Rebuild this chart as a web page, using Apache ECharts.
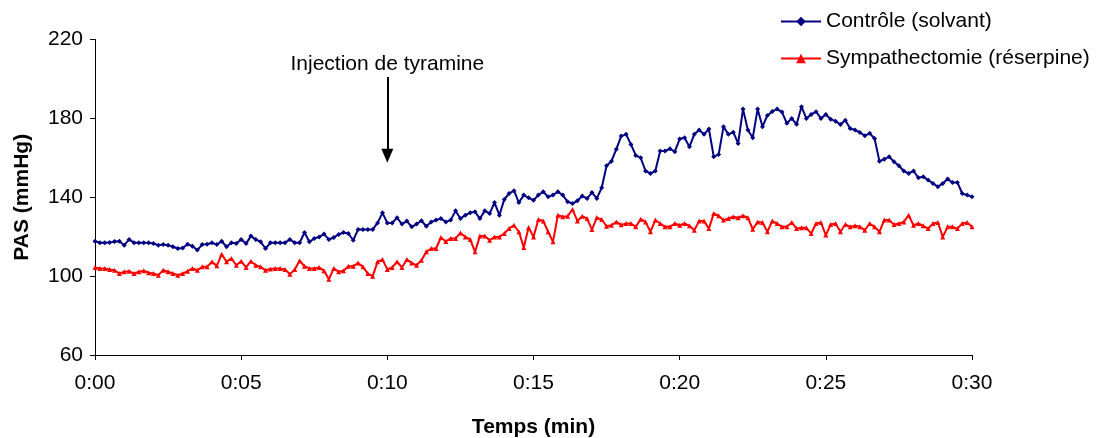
<!DOCTYPE html>
<html><head><meta charset="utf-8">
<script src="https://cdn.jsdelivr.net/npm/echarts@6/dist/echarts.min.js"></script>
<style>html,body{margin:0;padding:0;background:#fff}#c{width:1103px;height:438px}</style>
</head><body><div id="c"></div>
<script>
// time points every 10 s from 0:00 to 0:30 (h:mm:ss)
const categories = [];
for (let s = 0; s <= 1800; s += 10) {
  const m = Math.floor(s / 60), sec = s % 60;
  categories.push('0:' + String(m).padStart(2, '0') + ':' + String(sec).padStart(2, '0'));
}
const xTickLabels = ['0:00:00','0:05:00','0:10:00','0:15:00','0:20:00','0:25:00','0:30:00'];
const yTicks = [60, 100, 140, 180, 220];

const controle = [
117.7,116.9,116.9,117.0,117.6,117.7,115.7,118.6,116.9,116.9,
116.9,116.9,116.5,115.7,116.0,115.7,114.9,114.0,114.3,116.2,
115.2,113.2,116.0,116.2,116.9,116.0,117.7,114.9,116.9,116.5,
118.6,116.5,120.3,118.6,117.4,114.0,116.9,116.9,116.9,116.9,
118.6,116.9,116.9,122.1,117.4,119.1,119.9,121.3,118.6,119.6,
121.1,122.1,121.6,118.2,123.7,123.7,123.7,123.7,127.0,132.1,
127.0,127.0,129.6,126.4,127.9,125.0,126.4,128.1,125.3,127.5,
128.4,129.2,127.5,128.4,133.1,129.2,130.9,132.1,132.6,129.2,
133.1,131.8,137.3,130.9,138.9,141.9,143.3,137.3,141.1,139.7,
138.5,141.1,142.8,140.2,141.1,142.8,141.1,137.7,136.8,138.2,
140.6,139.4,142.4,139.4,144.8,156.0,158.3,164.4,171.0,171.9,
166.8,161.2,160.0,153.3,152.1,153.3,163.4,163.4,164.6,163.1,
169.5,170.2,165.6,171.9,174.1,171.9,174.6,160.5,161.7,175.8,
171.9,173.0,167.3,184.7,174.1,170.2,184.7,175.8,181.5,183.5,
184.7,183.2,177.5,180.0,177.0,185.9,180.0,182.0,183.4,180.0,
182.0,179.6,178.6,176.9,179.1,174.9,174.1,172.9,171.2,172.4,
169.8,158.3,159.3,160.5,158.0,156.0,153.3,152.1,153.3,149.9,
150.4,148.7,147.0,145.3,147.0,149.2,147.5,147.5,141.9,141.1,
140.2
];
const sympathectomie = [
104.4,103.9,103.9,103.4,103.0,101.3,102.2,102.5,101.3,102.2,
102.7,101.7,101.3,100.5,103.0,102.2,101.3,100.5,101.3,102.5,
103.9,103.0,104.7,104.7,107.3,105.2,111.1,107.3,109.0,105.5,
107.6,104.4,107.6,105.5,104.7,103.0,103.6,103.9,103.9,103.4,
101.0,103.4,107.8,105.0,103.9,103.9,104.4,102.7,98.4,103.9,
102.2,102.7,105.0,105.0,106.7,104.7,101.3,100.0,107.3,108.4,
103.4,104.4,107.3,104.4,108.4,106.7,105.5,108.1,112.3,114.0,
114.0,119.6,117.6,119.1,119.1,121.9,119.9,118.6,112.3,120.3,
120.3,118.2,119.9,119.9,121.6,124.2,125.8,122.5,114.5,124.7,
119.9,128.7,128.0,122.5,117.4,130.9,130.1,130.4,133.8,128.0,
130.4,129.2,123.6,129.7,128.7,125.3,125.8,127.5,126.0,126.7,
126.7,125.0,128.9,127.5,122.5,128.4,126.7,125.0,125.0,126.7,
125.8,126.7,125.5,123.3,127.9,127.9,124.1,131.8,130.6,128.4,
129.2,130.1,129.6,130.6,129.6,123.8,127.5,127.2,122.5,127.9,
126.7,125.0,125.0,127.2,124.1,124.5,124.5,121.6,126.7,127.2,
120.8,126.2,126.7,122.5,126.2,125.0,125.5,125.0,123.3,126.7,
125.0,122.5,128.4,128.4,126.2,126.7,127.5,130.9,125.8,126.7,
125.5,124.1,126.7,127.2,119.9,125.0,125.0,124.1,126.7,127.2,
125.0
];
const injectionAt = '0:10:00';
const arrowTop = 201, arrowBottom = 161;

const FONT = '"Liberation Sans", Arial, sans-serif';
const FS = 21;
const chart = echarts.init(document.getElementById('c'), null, {renderer: 'canvas'});
chart.setOption({
  animation: false,
  backgroundColor: '#ffffff',
  textStyle: {fontFamily: FONT},
  grid: {left: 95, top: 39.5, width: 877, height: 315.5, containLabel: false, outerBoundsMode: 'none'},
  legend: {
    orient: 'vertical', left: 775, top: 6, itemWidth: 40, itemHeight: 12, itemGap: 16,
    textStyle: {fontFamily: FONT, fontSize: FS, color: '#000', lineHeight: 21},
    data: ['Contrôle (solvant)', 'Sympathectomie (réserpine)']
  },
  xAxis: {
    type: 'category', data: categories, boundaryGap: false,
    name: 'Temps (min)', nameLocation: 'middle', nameGap: 62,
    nameTextStyle: {fontFamily: FONT, fontSize: FS, fontWeight: 'bold', color: '#000'},
    axisLine: {lineStyle: {color: '#000', width: 1}},
    axisTick: {interval: (i, v) => xTickLabels.includes(v), length: 5, lineStyle: {color: '#000'}},
    axisLabel: {interval: (i, v) => xTickLabels.includes(v), formatter: v => v.slice(0, 4),
      fontFamily: FONT, fontSize: FS, color: '#000', margin: 18},
    splitLine: {show: false}
  },
  yAxis: {
    type: 'value', min: yTicks[0], max: yTicks[yTicks.length - 1], interval: 40,
    name: 'PAS (mmHg)', nameLocation: 'middle', nameGap: 62,
    nameTextStyle: {fontFamily: FONT, fontSize: FS, fontWeight: 'bold', color: '#000'},
    axisLine: {show: true, lineStyle: {color: '#000', width: 1}},
    axisTick: {show: true, length: 5, lineStyle: {color: '#000'}},
    axisLabel: {fontFamily: FONT, fontSize: FS, color: '#000', margin: 12},
    splitLine: {show: false}
  },
  series: [
    {
      name: 'Contrôle (solvant)', type: 'line', data: controle,
      symbol: 'diamond', symbolSize: 5, showAllSymbol: true,
      itemStyle: {color: '#000080'}, lineStyle: {color: '#000080', width: 2},
      z: 3,
      markLine: {
        silent: true, symbol: ['none', 'triangle'], symbolSize: [12, 14],
        lineStyle: {color: '#000', width: 2, type: 'solid'},
        label: {show: true, position: 'start', formatter: 'Injection de tyramine',
          fontFamily: FONT, fontSize: FS, color: '#000', distance: 2},
        data: [[{coord: [injectionAt, arrowTop]}, {coord: [injectionAt, arrowBottom]}]]
      }
    },
    {
      name: 'Sympathectomie (réserpine)', type: 'line', data: sympathectomie,
      symbol: 'triangle', symbolSize: 5, showAllSymbol: true,
      itemStyle: {color: '#ff0000'}, lineStyle: {color: '#ff0000', width: 2},
      z: 2
    }
  ]
});
</script></body></html>
